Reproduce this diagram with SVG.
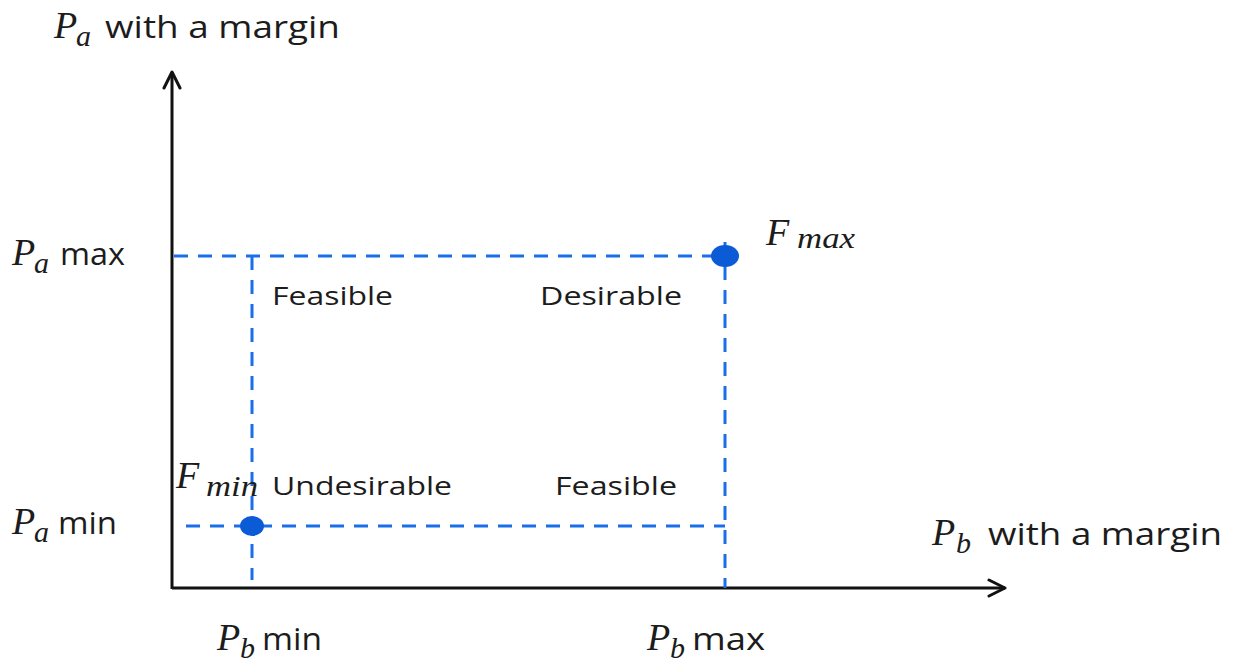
<svg xmlns="http://www.w3.org/2000/svg" width="1240" height="664" viewBox="0 0 1240 664">
  <style>
    .lbl { font-family: "Open Sans", "Liberation Sans", sans-serif; fill: #1c1c1c; }
    .big { font-size: 31px; }
    .reg { font-size: 25px; }
    .math { font-family: "Liberation Serif", "DejaVu Serif", serif; font-style: italic; fill: #1c1c1c; font-size: 38px; }
    .sub { font-family: "Liberation Serif", "DejaVu Serif", serif; font-style: italic; fill: #1c1c1c; font-size: 30px; }
    .axis { stroke: #111; stroke-width: 3; fill: none; }
    .dash { stroke: #1a6ee8; stroke-width: 3; stroke-dasharray: 14 10; fill: none; }
    .dot { fill: #0b5ad6; }
  </style>
  <defs>
    <marker id="arrow" viewBox="0 0 20 20" refX="18" refY="10" markerWidth="20" markerHeight="20" markerUnits="userSpaceOnUse" orient="auto">
      <path d="M2 2 L18 10 L2 18" fill="none" stroke="#111" stroke-width="3" stroke-linecap="round" stroke-linejoin="round"/>
    </marker>
  </defs>
  <rect width="1240" height="664" fill="#fff"/>

  <!-- axes and dashed bounds -->
  <g id="connectors">
    <line class="axis" x1="172" y1="589" x2="172" y2="72" marker-end="url(#arrow)"/>
    <line class="axis" x1="172" y1="588" x2="1005" y2="588" marker-end="url(#arrow)"/>
    <line class="dash" x1="174" y1="256" x2="725" y2="256"/>
    <line class="dash" x1="252" y1="256" x2="252" y2="580"/>
    <line class="dash" x1="186" y1="526" x2="725" y2="526"/>
    <line class="dash" x1="725" y1="242" x2="725" y2="588"/>
  </g>

  <!-- corner points -->
  <g id="fmax">
    <ellipse class="dot" cx="725" cy="256" rx="14" ry="11"/>
    <text class="math" x="766" y="245">F</text>
    <text class="sub" x="797" y="248" textLength="58" lengthAdjust="spacingAndGlyphs">max</text>
  </g>
  <g id="fmin">
    <ellipse class="dot" cx="252" cy="526" rx="12" ry="10"/>
    <text class="math" x="176" y="488">F</text>
    <text class="sub" x="206" y="496" textLength="52" lengthAdjust="spacingAndGlyphs">min</text>
  </g>

  <!-- region labels -->
  <g id="region-feasible-top"><text class="lbl reg" x="272" y="305" textLength="121" lengthAdjust="spacingAndGlyphs">Feasible</text></g>
  <g id="region-desirable"><text class="lbl reg" x="540" y="305" textLength="142" lengthAdjust="spacingAndGlyphs">Desirable</text></g>
  <g id="region-undesirable"><text class="lbl reg" x="272" y="495" textLength="180" lengthAdjust="spacingAndGlyphs">Undesirable</text></g>
  <g id="region-feasible-bottom"><text class="lbl reg" x="555" y="495" textLength="122" lengthAdjust="spacingAndGlyphs">Feasible</text></g>

  <!-- axis titles -->
  <g id="y-title">
    <text class="math" x="54" y="38">P</text>
    <text class="sub" x="76" y="46">a</text>
    <text class="lbl big" x="105" y="38" textLength="235" lengthAdjust="spacingAndGlyphs">with a margin</text>
  </g>
  <g id="x-title">
    <text class="math" x="932" y="545">P</text>
    <text class="sub" x="956" y="553">b</text>
    <text class="lbl big" x="988" y="545" textLength="234" lengthAdjust="spacingAndGlyphs">with a margin</text>
  </g>

  <!-- tick labels -->
  <g id="pa-max">
    <text class="math" x="12" y="265">P</text>
    <text class="sub" x="34" y="273">a</text>
    <text class="lbl big" x="60" y="265" textLength="65" lengthAdjust="spacingAndGlyphs">max</text>
  </g>
  <g id="pa-min">
    <text class="math" x="12" y="534">P</text>
    <text class="sub" x="34" y="542">a</text>
    <text class="lbl big" x="58" y="534" textLength="59" lengthAdjust="spacingAndGlyphs">min</text>
  </g>
  <g id="pb-min">
    <text class="math" x="217" y="650">P</text>
    <text class="sub" x="240" y="658">b</text>
    <text class="lbl big" x="262" y="650" textLength="60" lengthAdjust="spacingAndGlyphs">min</text>
  </g>
  <g id="pb-max">
    <text class="math" x="647" y="650">P</text>
    <text class="sub" x="670" y="658">b</text>
    <text class="lbl big" x="692" y="650" textLength="73" lengthAdjust="spacingAndGlyphs">max</text>
  </g>
</svg>
